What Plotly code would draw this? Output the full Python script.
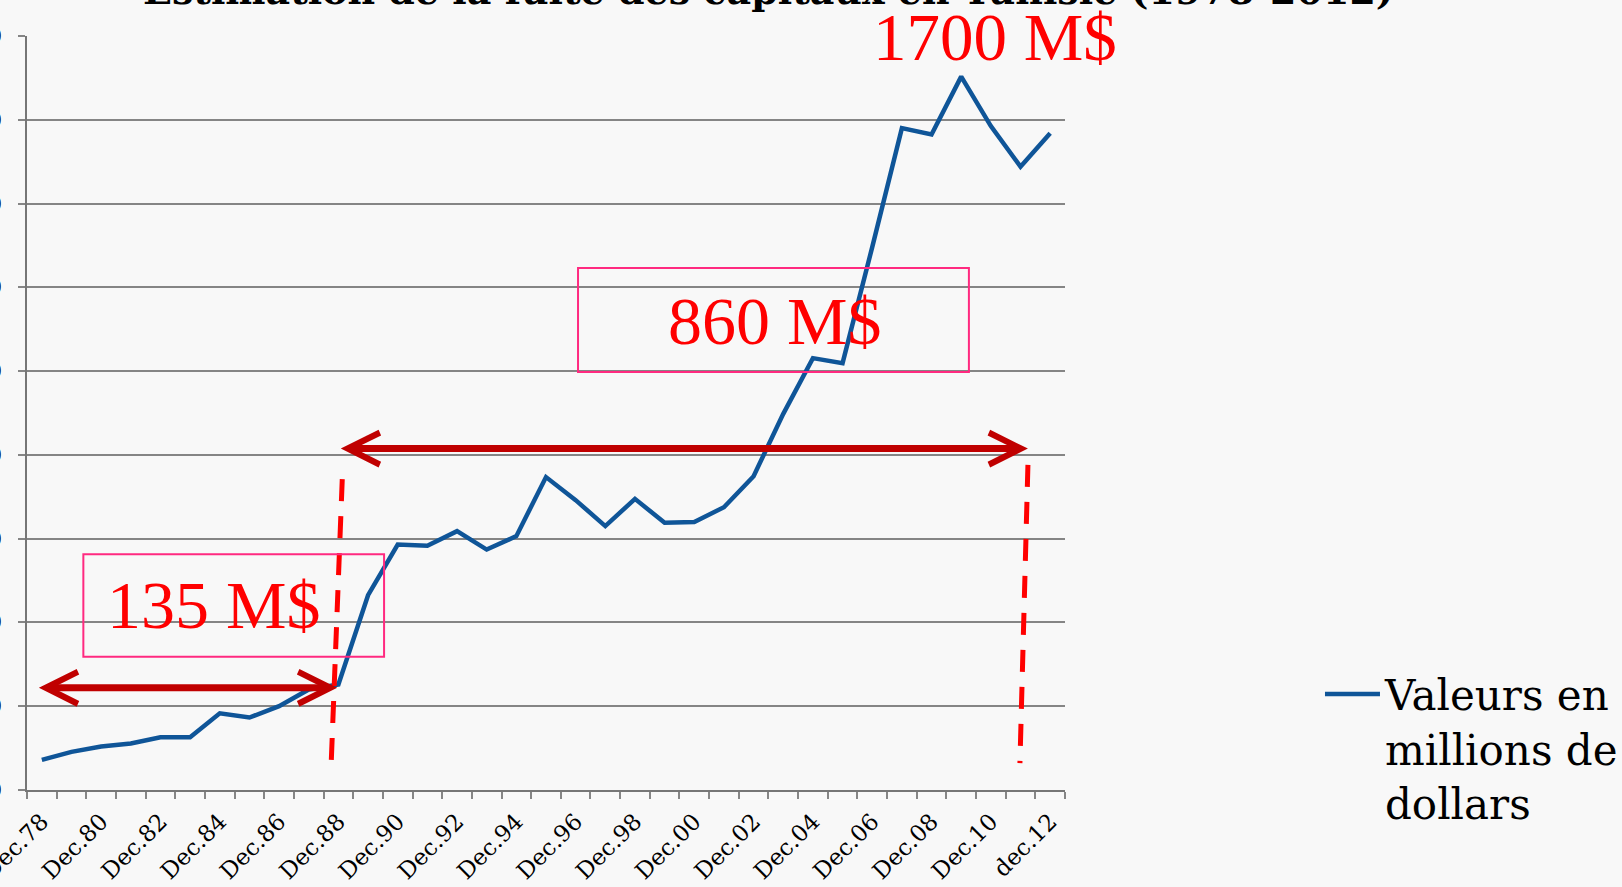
import plotly.graph_objects as go

# ---------------- data ----------------
years = ["Dec.78", "Dec.79", "Dec.80", "Dec.81", "Dec.82", "Dec.83", "Dec.84", "Dec.85",
         "Dec.86", "Dec.87", "Dec.88", "Dec.89", "Dec.90", "Dec.91", "Dec.92", "Dec.93",
         "Dec.94", "Dec.95", "Dec.96", "Dec.97", "Dec.98", "Dec.99", "Dec.00", "Dec.01",
         "Dec.02", "Dec.03", "Dec.04", "Dec.05", "Dec.06", "Dec.07", "Dec.08", "Dec.09",
         "Dec.10", "Dec.11", "dec.12"]
values = [72, 91, 104, 111, 126, 126, 183, 173, 200, 240, 252, 465, 586, 583, 618, 574,
          606, 747, 692, 630, 695, 638, 640, 675, 749, 898, 1031, 1019, 1296, 1580, 1565,
          1703, 1585, 1488, 1568]
tick_labels = [y if i % 2 == 0 else "" for i, y in enumerate(years)]
y_ticks = [0, 200, 400, 600, 800, 1000, 1200, 1400, 1600, 1800]
series_name = "Valeurs en<br>millions de<br>dollars"
title_text = "Estimation de la fuite des capitaux en Tunisie (1978-2012)"
notes = ["1700 M$", "860 M$", "135 M$"]

BG = "#F8F8F8"
GRID = "#858585"
BLUE = "#0F5598"
DARKRED = "#C00000"
RED = "#FF0000"
PINK = "#FF2A80"
SERIF = "DejaVu Serif"
TIMES = "Liberation Serif"

fig = go.Figure()
fig.add_trace(go.Scatter(
    x=years, y=values, mode="lines", name=series_name,
    line=dict(color=BLUE, width=4.5),
))

# dashed vertical markers
fig.add_shape(type="line", xref="x", yref="y", x0=10.13, y0=742, x1=9.76, y1=69,
              line=dict(color=RED, width=5, dash="22px,15px"))
fig.add_shape(type="line", xref="x", yref="y", x0=33.25, y0=776, x1=32.98, y1=64,
              line=dict(color=RED, width=5, dash="22px,15px"))

# boxes
fig.add_shape(type="rect", xref="x", yref="y", x0=18.08, x1=31.26, y0=998, y1=1246,
              line=dict(color=PINK, width=2), fillcolor="rgba(0,0,0,0)")
fig.add_shape(type="rect", xref="x", yref="y", x0=1.40, x1=11.54, y0=318, y1=563,
              line=dict(color=PINK, width=2), fillcolor="rgba(0,0,0,0)")

# double arrows
for (xa, xb, yy) in [(-0.15, 9.96, 244), (10.03, 33.25, 815)]:
    fig.add_annotation(x=xb, y=yy, ax=xa, ay=yy, xref="x", yref="y", axref="x", ayref="y",
                       text="", showarrow=True, arrowside="end+start",
                       arrowhead=5, startarrowhead=5, arrowsize=0.9, startarrowsize=0.9,
                       arrowwidth=7, arrowcolor=DARKRED, standoff=0, startstandoff=0)

# red texts
fig.add_annotation(x=32.14, y=1797, xref="x", yref="y", text=notes[0], showarrow=False,
                   font=dict(family=TIMES, size=67, color=RED), yanchor="middle")
fig.add_annotation(x=24.69, y=1120, xref="x", yref="y", text=notes[1], showarrow=False,
                   font=dict(family=TIMES, size=68, color=RED), yanchor="middle")
fig.add_annotation(x=5.78, y=442, xref="x", yref="y", text=notes[2], showarrow=False,
                   font=dict(family=TIMES, size=68, color=RED), yanchor="middle")

# title (partly cut off at the top, as in the reference)
fig.add_annotation(x=0.714, y=1.028, xref="paper", yref="paper", text=title_text,
                   showarrow=False, yanchor="bottom", xanchor="center",
                   font=dict(family=SERIF, size=38, color="black", weight="bold"))

fig.update_layout(
    width=1622, height=887,
    margin=dict(l=27, r=557, t=36, b=97, autoexpand=False),
    paper_bgcolor=BG, plot_bgcolor=BG,
    showlegend=True,
    legend=dict(xref="container", yref="container", x=0.8138, y=0.156,
                xanchor="left", yanchor="middle", itemwidth=55, valign="top",
                bgcolor="rgba(0,0,0,0)",
                font=dict(family=SERIF, size=42, color="black")),
    xaxis=dict(type="category", range=[-0.5, 34.5], tickmode="array", automargin=False,
               tickvals=years, ticktext=tick_labels, tickson="boundaries",
               ticks="outside", ticklen=7, tickwidth=2, tickcolor=GRID,
               ticklabelstandoff=7,
               tickangle=-45, showgrid=False, showline=True, linecolor="#767676",
               linewidth=2, tickfont=dict(family=SERIF, size=23, color="black")),
    yaxis=dict(range=[0, 1800], tickmode="array", tickvals=y_ticks, automargin=False,
               ticks="outside", ticklen=7, tickwidth=2, tickcolor=GRID,
               showgrid=True, gridcolor=GRID, gridwidth=2, zeroline=False,
               showline=True, linecolor="#767676", linewidth=2,
               ticklabelstandoff=12,
               tickfont=dict(family=SERIF, size=20, color="black")),
)

fig.write_html("out.html", config={"displayModeBar": False},
               post_script="document.body.style.margin='0';document.body.style.overflow='hidden';")
